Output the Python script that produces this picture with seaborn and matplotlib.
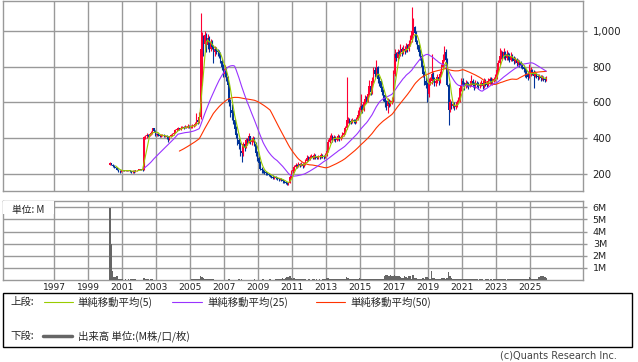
import numpy as np
import pandas as pd
import matplotlib
matplotlib.use("Agg")
import matplotlib.pyplot as plt
import seaborn as sns
from matplotlib.patches import Rectangle
from matplotlib.lines import Line2D

# monthly bars from Apr 2000 to Dec 2025 (open = previous close)
first_month = "2000-04"
first_open = 250

close = [
    260, 252, 245, 238, 232, 225, 218, 215, 220,  # 2000 (Apr-)
    220, 218, 220, 218, 220, 215, 210, 218, 212, 220, 222, 225,  # 2001
    225, 224, 222, 405, 410, 420, 415, 425, 430, 455, 440, 420,  # 2002
    425, 418, 412, 415, 418, 410, 415, 405, 395, 410, 418, 425,  # 2003
    430, 445, 450, 455, 450, 460, 462, 458, 465, 460, 470, 465,  # 2004
    465, 470, 475, 480, 500, 490, 520, 900, 960, 930, 980, 920,  # 2005
    960, 900, 940, 910, 880, 900, 890, 880, 870, 830, 800, 760,  # 2006
    790, 740, 700, 600, 560, 540, 500, 450, 420, 390, 370, 330,  # 2007
    320, 370, 350, 390, 380, 410, 380, 390, 400, 370, 320, 290,  # 2008
    260, 230, 220, 215, 210, 205, 200, 195, 190, 185, 180, 182,  # 2009
    178, 175, 170, 172, 168, 160, 158, 150, 145, 150, 185, 215,  # 2010
    225, 240, 250, 245, 255, 250, 258, 245, 255, 275, 290, 285,  # 2011
    295, 300, 290, 305, 295, 290, 300, 295, 305, 300, 295, 310,  # 2012
    330, 380, 400, 410, 395, 405, 390, 400, 410, 395, 405, 420,  # 2013
    430, 455, 500, 500, 495, 490, 500, 495, 490, 505, 530, 560,  # 2014
    580, 560, 600, 620, 610, 650, 690, 660, 720, 780, 760, 800,  # 2015
    730, 720, 680, 660, 640, 600, 580, 610, 590, 600, 610, 760,  # 2016
    870, 850, 880, 870, 900, 880, 900, 890, 910, 900, 930, 950,  # 2017
    1000, 1020, 990, 940, 920, 880, 860, 800, 760, 720, 700, 650,  # 2018
    720, 720, 760, 730, 710, 720, 740, 720, 760, 800, 840, 880,  # 2019
    840, 700, 560, 600, 580, 590, 575, 580, 600, 610, 680, 720,  # 2020
    700, 690, 710, 700, 690, 705, 720, 700, 690, 710, 700, 690,  # 2021
    700, 710, 690, 720, 710, 700, 720, 730, 715, 720, 730, 740,  # 2022
    780, 820, 860, 870, 860, 880, 850, 870, 860, 840, 860, 850,  # 2023
    830, 840, 820, 830, 820, 810, 800, 790, 770, 760, 740, 760,  # 2024
    780, 770, 750, 760, 750, 740, 745, 735, 740, 730, 725, 740,  # 2025
]

high = [
    268, 262, 255, 248, 240, 235, 228, 222, 225,
    224, 222, 222, 222, 222, 222, 216, 220, 220, 222, 225, 228,
    228, 226, 226, 412, 420, 428, 425, 432, 440, 460, 458, 445,
    432, 428, 420, 422, 425, 422, 420, 418, 410, 415, 425, 432,
    438, 452, 458, 462, 460, 466, 470, 468, 472, 470, 478, 475,
    472, 478, 482, 490, 540, 520, 545, 1100, 995, 980, 1000, 990,
    985, 970, 955, 950, 920, 915, 910, 900, 895, 880, 845, 815,
    810, 800, 750, 710, 620, 590, 560, 510, 470, 430, 400, 380,
    345, 380, 380, 400, 400, 430, 415, 400, 410, 405, 380, 330,
    300, 270, 240, 228, 222, 215, 212, 205, 200, 196, 192, 190,
    188, 185, 180, 180, 178, 172, 165, 162, 155, 158, 195, 225,
    240, 252, 262, 258, 265, 262, 268, 262, 265, 285, 305, 300,
    305, 312, 305, 315, 310, 302, 308, 305, 315, 312, 305, 320,
    345, 395, 420, 430, 418, 420, 412, 415, 425, 418, 420, 435,
    445, 470, 740, 520, 512, 505, 512, 510, 505, 520, 560, 575,
    645, 590, 615, 640, 635, 665, 725, 700, 740, 800, 800, 840,
    805, 750, 730, 695, 675, 650, 615, 625, 620, 615, 630, 780,
    900, 885, 900, 895, 925, 910, 920, 915, 935, 925, 950, 975,
    1135, 1075, 1030, 1000, 950, 930, 900, 870, 810, 775, 740, 715,
    735, 740, 870, 770, 745, 735, 760, 745, 775, 815, 870, 915,
    900, 850, 710, 620, 610, 605, 600, 595, 615, 630, 700, 735,
    735, 712, 725, 720, 712, 720, 755, 730, 712, 725, 720, 712,
    712, 725, 722, 735, 730, 720, 735, 745, 740, 735, 745, 760,
    795, 840, 905, 895, 890, 905, 890, 895, 880, 875, 880, 870,
    860, 855, 850, 845, 840, 830, 820, 812, 800, 785, 775, 815,
    800, 790, 780, 775, 765, 758, 760, 755, 755, 750, 742, 750,
]

low = [
    248, 248, 240, 235, 228, 220, 212, 208, 212,
    216, 215, 216, 215, 216, 212, 205, 205, 208, 210, 218, 220,
    222, 220, 218, 220, 398, 402, 405, 410, 420, 425, 435, 415,
    415, 412, 405, 405, 410, 405, 405, 398, 380, 390, 405, 412,
    420, 428, 440, 445, 445, 448, 455, 452, 455, 455, 458, 460,
    458, 460, 465, 470, 475, 482, 485, 505, 700, 860, 900, 880,
    900, 880, 890, 900, 820, 860, 870, 860, 850, 820, 780, 740,
    740, 720, 680, 580, 520, 500, 480, 430, 400, 360, 340, 300,
    265, 300, 330, 345, 365, 375, 370, 365, 380, 355, 300, 270,
    250, 220, 205, 205, 200, 195, 192, 188, 182, 178, 172, 172,
    170, 168, 162, 165, 160, 152, 150, 142, 138, 140, 148, 180,
    205, 218, 232, 235, 240, 240, 245, 235, 240, 250, 268, 275,
    280, 288, 282, 285, 285, 282, 285, 285, 290, 292, 285, 290,
    300, 325, 372, 390, 380, 385, 380, 382, 392, 385, 388, 400,
    410, 425, 450, 485, 482, 480, 485, 485, 480, 485, 500, 525,
    545, 540, 555, 590, 595, 600, 640, 640, 650, 710, 740, 750,
    710, 690, 665, 640, 610, 575, 560, 540, 575, 580, 590, 605,
    750, 830, 840, 850, 860, 860, 870, 870, 880, 885, 890, 915,
    940, 975, 960, 930, 900, 860, 840, 780, 740, 700, 680, 603,
    630, 700, 705, 715, 690, 695, 710, 700, 710, 750, 790, 830,
    820, 690, 475, 545, 565, 570, 560, 565, 575, 595, 600, 665,
    690, 672, 680, 688, 675, 685, 695, 688, 672, 680, 688, 675,
    680, 690, 678, 682, 695, 688, 690, 705, 705, 700, 712, 720,
    730, 770, 810, 845, 840, 845, 840, 840, 840, 825, 830, 830,
    815, 820, 805, 808, 800, 795, 785, 770, 740, 735, 725, 735,
    750, 755, 680, 740, 735, 725, 730, 722, 725, 718, 715, 720,
]

# volume in millions of shares
volume = [
    5.95, 3.0, 0.72, 0.22, 0.25, 0.3, 0.12, 0.08, 0.06,
    0.05, 0.04, 0.06, 0.03, 0.05, 0.04, 0.08, 0.1, 0.06, 0.05, 0.03, 0.04,
    0.02, 0.02, 0.03, 0.15, 0.1, 0.06, 0.05, 0.04, 0.05, 0.07, 0.04, 0.03,
    0.03, 0.02, 0.02, 0.03, 0.02, 0.02, 0.03, 0.02, 0.04, 0.03, 0.02, 0.02,
    0.03, 0.04, 0.03, 0.02, 0.03, 0.04, 0.02, 0.03, 0.03, 0.02, 0.04, 0.03,
    0.04, 0.05, 0.08, 0.06, 0.12, 0.07, 0.06, 0.32, 0.25, 0.18, 0.12, 0.1,
    0.08, 0.06, 0.05, 0.05, 0.07, 0.04, 0.03, 0.04, 0.03, 0.04, 0.03, 0.04,
    0.03, 0.03, 0.04, 0.05, 0.04, 0.03, 0.04, 0.03, 0.04, 0.03, 0.05, 0.04,
    0.05, 0.04, 0.03, 0.04, 0.03, 0.04, 0.03, 0.03, 0.04, 0.05, 0.04, 0.03,
    0.04, 0.03, 0.04, 0.05, 0.03, 0.04, 0.03, 0.04, 0.05, 0.04, 0.03, 0.04,
    0.05, 0.06, 0.1, 0.12, 0.1, 0.14, 0.12, 0.18, 0.22, 0.28, 0.3, 0.2,
    0.12, 0.14, 0.1, 0.12, 0.08, 0.1, 0.06, 0.05, 0.06, 0.05, 0.04, 0.06,
    0.05, 0.04, 0.06, 0.05, 0.04, 0.05, 0.04, 0.05, 0.04, 0.05, 0.06, 0.07,
    0.15, 0.14, 0.1, 0.12, 0.08, 0.1, 0.06, 0.08, 0.06, 0.07, 0.05, 0.08,
    0.12, 0.1, 0.28, 0.15, 0.12, 0.1, 0.12, 0.08, 0.1, 0.1, 0.12, 0.15,
    0.1, 0.08, 0.1, 0.12, 0.08, 0.1, 0.12, 0.08, 0.1, 0.12, 0.08, 0.1,
    0.12, 0.1, 0.08, 0.1, 0.12, 0.35, 0.4, 0.38, 0.35, 0.4, 0.36, 0.3,
    0.38, 0.35, 0.3, 0.32, 0.28, 0.2, 0.18, 0.3, 0.25, 0.15, 0.35, 0.3,
    0.12, 0.38, 0.2, 0.15, 0.12, 0.1, 0.12, 0.1, 0.15, 0.12, 0.22, 0.25,
    0.15, 0.12, 0.75, 0.2, 0.15, 0.12, 0.1, 0.12, 0.1, 0.15, 0.2, 0.15,
    0.12, 0.2, 0.68, 0.3, 0.15, 0.12, 0.1, 0.08, 0.1, 0.12, 0.1, 0.08,
    0.08, 0.06, 0.07, 0.05, 0.06, 0.05, 0.07, 0.06, 0.05, 0.06, 0.05, 0.04,
    0.05, 0.06, 0.05, 0.04, 0.05, 0.06, 0.05, 0.04, 0.05, 0.04, 0.05, 0.06,
    0.05, 0.06, 0.08, 0.06, 0.05, 0.06, 0.05, 0.04, 0.06, 0.05, 0.06, 0.05,
    0.06, 0.05, 0.06, 0.05, 0.06, 0.05, 0.06, 0.05, 0.07, 0.06, 0.08, 0.25,
    0.2, 0.08, 0.1, 0.08, 0.1, 0.08, 0.25, 0.3, 0.32, 0.3, 0.25, 0.2,
]

year_ticks = list(range(1997, 2026, 2))
price_ticks = [200, 400, 600, 800, 1000]
vol_ticks = [1, 2, 3, 4, 5, 6]
ma_windows = [5, 25, 50]
ma_colors = ["#99cc00", "#9933ff", "#ff3300"]
ma_labels = ["単純移動平均(5)", "単純移動平均(25)", "単純移動平均(50)"]
up_color, down_color, vol_color = "#ff0033", "#003399", "#666666"
grid_color = "#999999"

# build the frame
months = pd.period_range(first_month, periods=len(close), freq="M")
df = pd.DataFrame({"close": close, "high": high, "low": low, "volume": volume})
df["t"] = months.year + (months.month - 0.5) / 12
df["open"] = df["close"].shift(1).fillna(first_open)
for w in ma_windows:
    df[f"ma{w}"] = df["close"].rolling(w).mean()

sns.set_style("white")
plt.rcParams["font.family"] = ["DejaVu Sans"]
cjk = ["Noto Sans CJK JP", "DejaVu Sans"]

W, H = 638, 362
fig = plt.figure(figsize=(W / 100, H / 100), dpi=100)


def fx(x):
    return x / W


def fy(y):
    return 1 - y / H


def px_axes(x0, y0, x1, y1):
    return fig.add_axes([fx(x0), fy(y1), (x1 - x0) / W, (y1 - y0) / H])


ax = px_axes(3, 0.5, 583, 190.5)
axv = px_axes(3, 201, 583, 280)

# candles
up = df["close"] >= df["open"]
colors = np.where(up, up_color, down_color)
ax.vlines(df["t"], df["low"], df["high"], colors=colors, lw=0.8, zorder=3)
body_lo = np.minimum(df["open"], df["close"])
body_h = np.maximum((df["close"] - df["open"]).abs(), 4)
ax.bar(df["t"], body_h, bottom=body_lo, width=0.085, color=colors, lw=0, zorder=3)

# moving averages
for w, c in list(zip(ma_windows, ma_colors))[::-1]:
    sns.lineplot(x=df["t"], y=df[f"ma{w}"], ax=ax, color=c, lw=0.8, zorder=4)

# volume
axv.bar(df["t"], df["volume"], width=1 / 12, color=vol_color, lw=0, zorder=3)

for a in (ax, axv):
    a.set_xlim(1994.0, 2028.12)
    a.set_xticks(year_ticks)
    a.grid(True, color=grid_color, lw=1)
    a.set_axisbelow(True)
    for s in a.spines.values():
        s.set_color(grid_color)
        s.set_linewidth(1)
    a.yaxis.tick_right()
    a.tick_params(axis="y", length=3, width=1, color=grid_color, pad=4,
                  labelcolor="#222222")
    a.tick_params(axis="x", length=0, labelcolor="#222222")
    a.set_xlabel("")
    a.set_ylabel("")

ax.set_ylim(107.7, 1170.6)
ax.set_yticks(price_ticks)
ax.set_yticklabels([f"{v:,}" for v in price_ticks], fontsize=7.3)
ax.set_xticklabels([])

axv.set_ylim(0, 6.52)
axv.set_yticks(vol_ticks)
axv.set_yticklabels([f"{v}M" for v in vol_ticks], fontsize=6.8)
axv.set_xticklabels([str(y) for y in year_ticks], fontsize=6.6)
axv.tick_params(axis="x", pad=2)

# unit label in the volume panel
axv.add_patch(Rectangle((0, 0.84), 51 / 580, 0.16, transform=axv.transAxes,
                        facecolor="white", edgecolor="none", zorder=4))
axv.text(9 / 580, 0.89, "単位: M", transform=axv.transAxes, va="center",
         ha="left", fontsize=7, family=cjk, color="#222222", zorder=5)

# legend box
fig.add_artist(Rectangle((fx(3), fy(347)), (632 - 3) / W, (347 - 293) / H,
                         transform=fig.transFigure, facecolor="none",
                         edgecolor="black", lw=1))
row1, row2 = 302, 336
fig.text(fx(10), fy(row1), "上段:", va="center", fontsize=7.5, family=cjk)
line_x = [(44, 73, 77), (172, 202, 207), (316, 345, 350)]
for (x0, x1, tx), c, lab in zip(line_x, ma_colors, ma_labels):
    fig.add_artist(Line2D([fx(x0), fx(x1)], [fy(row1)] * 2, color=c, lw=0.8,
                          transform=fig.transFigure))
    fig.text(fx(tx), fy(row1), lab, va="center", fontsize=7.5, family=cjk)
fig.text(fx(10), fy(row2), "下段:", va="center", fontsize=7.5, family=cjk)
fig.add_artist(Line2D([fx(43), fx(72)], [fy(row2)] * 2, color=vol_color, lw=2.5,
                      transform=fig.transFigure))
fig.text(fx(78), fy(row2), "出来高 単位:(M株/口/枚)", va="center", fontsize=7.5,
         family=cjk)

fig.text(fx(617), fy(356), "(c)Quants Research Inc.", ha="right", va="center",
         fontsize=7, color="#444444")

fig.savefig("out.png", dpi=100)
